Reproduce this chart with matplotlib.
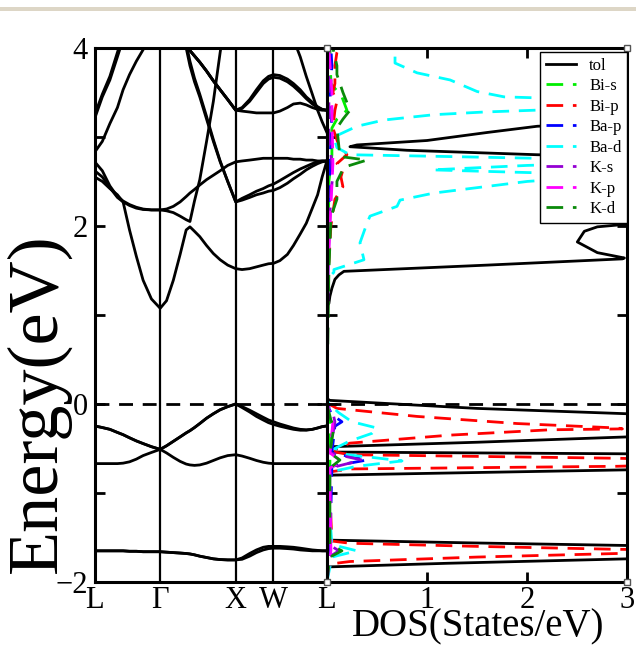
import numpy as np
import matplotlib.pyplot as plt
from matplotlib.patches import Rectangle

plt.rcParams['font.family'] = ['Liberation Serif', 'DejaVu Serif']

# k-path (fcc: L - Gamma - X - W - L)
k_ticks = [0.0, 0.866, 1.866, 2.366, 3.073]
k_labels = ['L', 'Γ', 'X', 'W', 'L']
k = [0.0, 0.1, 0.2, 0.3, 0.375, 0.46, 0.55, 0.64, 0.75, 0.866,
     0.95, 1.04, 1.13, 1.21, 1.26, 1.32, 1.39, 1.48, 1.57, 1.66, 1.76, 1.866,
     1.95, 2.05, 2.14, 2.23, 2.30, 2.366,
     2.45, 2.55, 2.63, 2.72, 2.80, 2.88, 2.95, 3.01, 3.073]

# valence bands (eV)
vb_low1 = [-1.65, -1.65, -1.65, -1.65, -1.65, -1.655, -1.655, -1.66, -1.66, -1.66,
           -1.665, -1.67, -1.675, -1.68, -1.685, -1.695, -1.71, -1.725, -1.74, -1.748, -1.752, -1.752,
           -1.73, -1.68, -1.64, -1.61, -1.60, -1.60,
           -1.60, -1.605, -1.61, -1.62, -1.63, -1.64, -1.645, -1.65, -1.65]
vb_low2 = [-1.65, -1.65, -1.65, -1.65, -1.65, -1.655, -1.655, -1.66, -1.66, -1.66,
           -1.665, -1.67, -1.675, -1.68, -1.685, -1.695, -1.71, -1.725, -1.74, -1.748, -1.752, -1.752,
           -1.745, -1.71, -1.67, -1.64, -1.625, -1.62,
           -1.62, -1.625, -1.63, -1.64, -1.645, -1.65, -1.65, -1.65, -1.65]
vb_mid = [-0.67, -0.67, -0.67, -0.67, -0.665, -0.65, -0.62, -0.58, -0.545, -0.51,
          -0.55, -0.60, -0.645, -0.675, -0.685, -0.69, -0.685, -0.665, -0.635, -0.605, -0.58, -0.57,
          -0.585, -0.61, -0.635, -0.655, -0.665, -0.67,
          -0.67, -0.67, -0.67, -0.67, -0.67, -0.67, -0.67, -0.67, -0.67]
vb_top1 = [-0.247, -0.265, -0.285, -0.32, -0.345, -0.38, -0.415, -0.445, -0.48, -0.51,
           -0.47, -0.42, -0.37, -0.325, -0.30, -0.265, -0.22, -0.16, -0.11, -0.065, -0.03, 0.0,
           -0.03, -0.07, -0.11, -0.15, -0.18, -0.20,
           -0.225, -0.25, -0.27, -0.285, -0.29, -0.285, -0.27, -0.255, -0.247]
vb_top2 = [-0.247, -0.265, -0.285, -0.32, -0.345, -0.38, -0.415, -0.445, -0.48, -0.51,
           -0.47, -0.42, -0.37, -0.325, -0.30, -0.265, -0.22, -0.16, -0.11, -0.065, -0.03, 0.0,
           -0.04, -0.09, -0.14, -0.18, -0.21, -0.23,
           -0.25, -0.27, -0.285, -0.295, -0.295, -0.285, -0.27, -0.255, -0.247]

# conduction bands (eV)
cb1 = [2.55, 2.50, 2.42, 2.35, 2.27, 1.955, 1.66, 1.39, 1.18, 1.075,
       1.16, 1.39, 1.68, 1.955, 1.99, 1.94, 1.88, 1.78, 1.69, 1.62, 1.56, 1.52,
       1.51, 1.52, 1.54, 1.56, 1.575, 1.58,
       1.61, 1.68, 1.78, 1.91, 2.03, 2.20, 2.35, 2.55, 2.73]
cb2 = [2.72, 2.62, 2.45, 2.33, 2.28, 2.24, 2.21, 2.19, 2.18, 2.18,
       2.17, 2.15, 2.11, 2.07, 2.05, 2.28, 2.52, 2.95, 3.40, 3.95, 4.5, 4.9,
       4.9, 4.9, 4.9, 4.9, 4.9, 4.9,
       4.9, 4.9, 4.9, 4.9, 4.9, 4.9, 4.9, 4.9, 4.9]
cb3 = [2.62, 2.55, 2.43, 2.32, 2.27, 2.23, 2.20, 2.185, 2.18, 2.18,
       2.19, 2.22, 2.27, 2.33, 2.37, 2.41, 2.46, 2.52, 2.57, 2.62, 2.68, 2.72,
       2.73, 2.74, 2.75, 2.76, 2.76, 2.76,
       2.76, 2.76, 2.75, 2.75, 2.74, 2.74, 2.73, 2.73, 2.73]
cb4 = [3.21, 3.45, 3.64, 3.90, 4.1, 4.3, 4.5, 4.6, 4.7, 4.7,
       4.7, 4.6, 4.35, 4.0, 3.80, 3.62, 3.45, 3.2, 2.95, 2.72, 2.50, 2.27,
       2.29, 2.32, 2.35, 2.37, 2.39, 2.40,
       2.43, 2.48, 2.53, 2.58, 2.63, 2.67, 2.70, 2.72, 2.73]
cb5 = [2.83, 2.95, 3.15, 3.33, 3.53, 3.70, 3.85, 3.98, 4.2, 4.4,
       4.5, 4.5, 4.35, 4.05, 3.85, 3.66, 3.48, 3.23, 2.97, 2.73, 2.50, 2.27,
       2.31, 2.35, 2.39, 2.42, 2.45, 2.47,
       2.51, 2.56, 2.60, 2.64, 2.67, 2.70, 2.72, 2.73, 2.73]
cb6 = [3.25, 3.48, 3.68, 3.95, 4.15, 4.35, 4.5, 4.6, 4.7, 4.75,
       4.7, 4.55, 4.3, 4.02, 3.97, 3.91, 3.84, 3.74, 3.63, 3.53, 3.42, 3.30,
       3.29, 3.28, 3.27, 3.27, 3.27, 3.27,
       3.29, 3.33, 3.37, 3.38, 3.36, 3.33, 3.31, 3.30, 3.30]
cb7 = [4.9, 4.9, 4.9, 4.9, 4.9, 4.9, 4.9, 4.9, 4.9, 4.9,
       4.7, 4.55, 4.3, 4.02, 3.97, 3.91, 3.84, 3.74, 3.63, 3.53, 3.42, 3.30,
       3.33, 3.42, 3.53, 3.63, 3.68, 3.70,
       3.69, 3.65, 3.60, 3.53, 3.45, 3.39, 3.34, 3.31, 3.30]
cb8 = [4.9, 4.9, 4.9, 4.9, 4.9, 4.9, 4.9, 4.9, 4.9, 4.9,
       4.7, 4.55, 4.3, 4.02, 3.97, 3.91, 3.84, 3.74, 3.63, 3.53, 3.42, 3.30,
       3.32, 3.40, 3.50, 3.60, 3.65, 3.67,
       3.66, 3.62, 3.57, 3.50, 3.43, 3.37, 3.33, 3.31, 3.30]
cb9 = [4.9, 4.9, 4.9, 4.9, 4.9, 4.9, 4.9, 4.9, 4.9, 4.9,
       4.9, 4.9, 4.9, 4.9, 4.9, 4.9, 4.9, 4.9, 4.9, 4.9, 4.9, 4.9,
       4.9, 4.9, 4.9, 4.9, 4.9, 4.8,
       4.6, 4.35, 4.1, 3.90, 3.68, 3.48, 3.30, 3.17, 3.05]
bands = [vb_low1, vb_low2, vb_mid, vb_top1, vb_top2,
         cb1, cb2, cb3, cb4, cb5, cb6, cb7, cb8, cb9]

# DOS (States/eV) vs energy, values beyond 3 are off the axis
tol_e = [-2.0, -1.85, -1.83, -1.79, -1.74, -1.665, -1.59, -1.56, -1.53, -1.50,
         -0.83, -0.80, -0.78, -0.74, -0.65, -0.56, -0.55, -0.54, -0.51, -0.48, -0.43, -0.37,
         -0.25, -0.11, -0.05, 0.04, 0.06,
         1.10, 1.13, 1.21, 1.30, 1.40, 1.45, 1.49, 1.56, 1.63, 1.64, 1.70, 1.82, 1.94, 1.99,
         2.02, 2.10, 2.50, 2.78, 2.80, 2.85, 2.89, 2.91, 2.96, 3.05, 3.12, 3.16, 3.50, 4.0]
tol_d = [0, 0, 0.03, 1.2, 3.0, 6.0, 3.0, 1.4, 0.03, 0,
         0, 0.03, 1.0, 3.0, 6.0, 3.0, 1.5, 0.03, 0.04, 0.05, 1.5, 3.0,
         6.0, 3.0, 1.5, 0.03, 0,
         0, 0.02, 0.03, 0.05, 0.08, 0.12, 0.17, 1.6, 2.95, 2.97, 2.7, 2.5, 2.57, 2.70,
         3.0, 6.0, 6.0, 3.0, 2.1, 0.8, 0.23, 0.3, 1.0, 1.6, 2.1, 3.0, 6.0, 6.0]

bis_e = [-2.0, -1.65, -0.65, -0.2, 0.0, 1.5, 2.5, 2.8, 3.1, 3.2, 3.3, 3.45, 3.6, 4.0]
bis_d = [0, 0.02, 0.03, 0.03, 0, 0.01, 0.02, 0.05, 0.05, 0.1, 0.2, 0.15, 0.04, 0.03]

bip_e = [-2.0, -1.80, -1.77, -1.72, -1.68, -1.655, -1.633, -1.60, -1.565, -1.54,
         -0.79, -0.76, -0.73, -0.70, -0.655, -0.61, -0.57, -0.54, -0.50, -0.44, -0.35,
         -0.29, -0.28, -0.27, -0.22, -0.14, -0.05, 0.0, 0.05,
         1.4, 1.6, 2.0, 2.3, 2.44, 2.55, 2.63, 2.70, 2.80, 2.90, 3.10, 3.30, 3.40,
         3.50, 3.60, 3.80, 3.95, 4.0]
bip_d = [0, 0.02, 0.23, 1.5, 2.9, 4.5, 2.9, 1.5, 0.23, 0.05,
         0.02, 0.05, 0.23, 2.9, 4.5, 2.9, 0.23, 0.08, 0.1, 0.23, 1.23,
         2.23, 2.95, 2.9, 1.9, 0.9, 0.1, 0.02, 0,
         0, 0.02, 0.04, 0.08, 0.16, 0.14, 0.16, 0.10, 0.2, 0.12, 0.06, 0.08, 0.1,
         0.06, 0.08, 0.08, 0.1, 0.12]

bap_e = [-2.0, -1.65, -0.7, -0.63, -0.55, -0.25, -0.20, -0.12, 0.0, 1.5, 2.7, 3.3, 3.5, 3.8, 4.0]
bap_d = [0, 0.03, 0.05, 0.4, 0.05, 0.08, 0.15, 0.05, 0, 0.01, 0.03, 0.05, 0.03, 0.05, 0.04]

bad_e = [-2.0, -1.72, -1.65, -1.58, -0.80, -0.76, -0.70, -0.64, -0.60, -0.57, -0.50,
         -0.42, -0.33, -0.27, -0.20, -0.10, 0.0, 0.05,
         1.40, 1.48, 1.51, 1.62, 1.81, 2.03, 2.11, 2.22, 2.29, 2.37, 2.44, 2.50, 2.54,
         2.57, 2.60, 2.63, 2.68, 2.73, 2.76, 2.78, 2.80, 2.88, 3.00, 3.12, 3.19, 3.25,
         3.28, 3.30, 3.34, 3.38, 3.42, 3.44, 3.45, 3.51, 3.64, 3.72, 3.83, 4.0]
bad_d = [0, 0.05, 0.3, 0.05, 0, 0.05, 0.3, 0.75, 0.45, 0.2, 0.08,
         0.22, 0.45, 0.5, 0.25, 0.12, 0.02, 0,
         0, 0.07, 0.07, 0.37, 0.33, 0.40, 0.43, 0.70, 0.73, 1.07, 1.57, 2.0, 2.5,
         3.2, 2.0, 1.05, 2.0, 3.5, 2.1, 1.2, 0.23, 0.1, 0.07, 0.3, 0.57, 1.07,
         1.57, 2.07, 3.0, 4.0, 3.0, 2.07, 1.77, 1.5, 1.23, 0.9, 0.68, 0.68]

ks_e = [-2.0, -1.72, -1.65, -1.58, -0.72, -0.63, -0.55, -0.20, -0.10, 0.0,
        1.5, 2.4, 2.55, 2.7, 3.0, 4.0]
ks_d = [0, 0.02, 0.12, 0.02, 0.03, 0.35, 0.03, 0.08, 0.06, 0,
        0.01, 0.04, 0.06, 0.05, 0.02, 0.02]

kp_e = [-2.0, -1.65, -0.72, -0.65, -0.55, -0.20, 0.0, 1.5, 2.7, 3.3, 3.5, 4.0]
kp_d = [0, 0.04, 0.03, 0.15, 0.03, 0.06, 0, 0.01, 0.06, 0.05, 0.05, 0.02]

kd_e = [-2.0, -1.72, -1.65, -1.58, -0.72, -0.63, -0.55, -0.26, -0.18, 0.0,
        1.5, 2.1, 2.3, 2.5, 2.66, 2.74, 2.78, 3.1, 3.2, 3.3, 3.5, 3.7, 3.8, 4.0]
kd_d = [0, 0.03, 0.15, 0.03, 0.03, 0.13, 0.03, 0.07, 0.04, 0,
        0.02, 0.04, 0.1, 0.1, 0.17, 0.4, 0.13, 0.1, 0.16, 0.23, 0.16, 0.1, 0.1, 0.06]

pdos = [('Bi-s', bis_e, bis_d, '#00ee00'),
        ('Bi-p', bip_e, bip_d, '#ff0000'),
        ('Ba-p', bap_e, bap_d, '#0000ff'),
        ('Ba-d', bad_e, bad_d, '#00ffff'),
        ('K-s', ks_e, ks_d, '#9400d3'),
        ('K-p', kp_e, kp_d, '#ff00ff'),
        ('K-d', kd_e, kd_d, '#0a8a0a')]

fig = plt.figure(figsize=(6.36, 6.45), dpi=100)
fig.add_artist(Rectangle((0, 0.983), 1, 0.006, transform=fig.transFigure,
                         color='#ddd6c6', lw=0))

ax1 = fig.add_axes([0.149, 0.0977, 0.365, 0.828])
ax2 = fig.add_axes([0.514, 0.0977, 0.4725, 0.828])

# band structure
for b in bands:
    ax1.plot(k, b, color='black', lw=2.0)
for kt in k_ticks[1:-1]:
    ax1.axvline(kt, color='black', lw=1.6)
ax1.axhline(0, color='black', lw=2.0, ls=(0, (5, 3.5)))
ax1.set_xlim(k_ticks[0], k_ticks[-1])
ax1.set_ylim(-2, 4)
ax1.set_xticks(k_ticks)
ax1.set_xticklabels(k_labels)
ax1.set_yticks([-2, 0, 2, 4])
ax1.set_yticks([-1, 1, 3], minor=True)
ax1.tick_params(axis='x', length=0, labelsize=22, pad=3)
ax1.tick_params(axis='y', which='both', direction='in', left=True, right=True,
                length=7, width=2, labelsize=22, pad=5)

# density of states
ax2.plot(tol_d, tol_e, color='black', lw=2.0, label='tol')
for name, e, d, c in pdos:
    ax2.plot(d, e, color=c, lw=2.0, ls=(0, (6, 3.5)), label=name)
ax2.axhline(0, color='black', lw=2.0, ls=(0, (5, 3.5)))
ax2.set_xlim(0, 3)
ax2.set_ylim(-2, 4)
ax2.set_xticks([0, 1, 2, 3])
ax2.set_xticklabels(['', '1', '2', '3'])
ax2.set_yticks([-2, -1, 0, 1, 2, 3, 4])
ax2.tick_params(axis='x', direction='in', top=True, bottom=True, length=7, width=2,
                labelsize=22, pad=3)
ax2.tick_params(axis='y', direction='in', left=True, right=True, length=7, width=2,
                labelleft=False)
ax2.plot([0, 1, 0, 1], [0, 0, 1, 1], ls='none', marker='s', ms=5, mfc='white',
         mec='#555555', mew=1, transform=ax2.transAxes, clip_on=False, zorder=5)

leg = ax2.legend(loc='upper right', bbox_to_anchor=(1.0, 0.9925), borderaxespad=0,
                 fontsize=12, labelspacing=0.27, handlelength=1.8, handletextpad=0.8,
                 borderpad=0.35, fancybox=False, framealpha=1, edgecolor='black')
leg.get_frame().set_linewidth(1.0)

for ax in (ax1, ax2):
    for s in ax.spines.values():
        s.set_linewidth(2.2)

fig.text(0.06, 0.375, 'Energy(eV)', rotation=90, ha='center', va='center', fontsize=52)
fig.text(0.751, 0.0, 'DOS(States/eV)', ha='center', va='bottom', fontsize=28)

fig.savefig('out.png', dpi=100)
